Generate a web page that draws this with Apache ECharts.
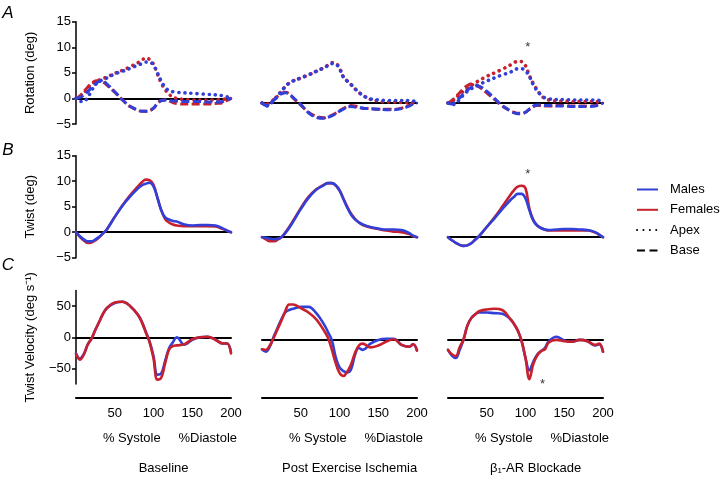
<!DOCTYPE html>
<html><head><meta charset="utf-8">
<script src="https://cdn.jsdelivr.net/npm/echarts@6/dist/echarts.min.js"></script>
<style>html,body{margin:0;padding:0;background:#fff}#c{width:720px;height:480px}</style>
</head><body><div id="c"></div>
<script>
// ---------- DATA ----------
const xs = [0,5,10,15,20,25,30,35,40,50,60,70,80,85,90,95,100,105,110,115,120,125,130,140,150,160,170,180,190,195,200];
const xTickLabels = [50,100,150,200];
const conditions = ['Baseline','Post Exercise Ischemia','\u03B2\u2081-AR Blockade'];
const rowTitles = ['Rotation (deg)','Twist (deg)','Twist Velocity (deg s\u207B\u00B9)'];
const panelLetters = ['A','B','C'];
const legendNames = ['Males','Females','Apex','Base'];

// Row A: rotation (deg)
const rotApexF_BL  = [0,0.2,1.0,2.0,2.8,3.3,3.6,3.9,4.2,4.9,5.5,6.2,7.0,7.5,7.9,7.6,6.7,4.8,3.0,1.7,0.8,0.3,0.0,-0.2,-0.3,-0.3,-0.3,-0.3,-0.2,0.0,0];
const rotApexM_BL  = [0,-0.6,-0.6,0.2,1.5,2.7,3.3,3.7,4.0,4.8,5.3,5.9,6.5,6.8,7.1,7.1,6.5,5.0,3.4,2.2,1.5,1.3,1.2,1.1,1.0,0.9,0.8,0.7,0.5,0.3,0];
const rotBaseF_BL  = [0,0.5,1.3,2.2,2.9,3.4,3.5,3.2,2.6,1.2,-0.3,-1.6,-2.3,-2.5,-2.5,-2.4,-1.9,-1.0,-0.4,-0.3,-0.5,-0.8,-1.0,-1.1,-1.1,-1.1,-1.1,-1.0,-0.8,-0.4,0];
const rotBaseM_BL  = [0,0.2,0.6,1.3,2.1,2.8,3.3,3.3,2.8,1.3,-0.3,-1.6,-2.3,-2.5,-2.5,-2.4,-1.9,-1.0,-0.4,-0.3,-0.4,-0.5,-0.5,-0.6,-0.6,-0.6,-0.7,-0.7,-0.6,-0.3,0];
const rotApexF_PEI = [0,-0.5,-0.2,0.6,1.4,2.3,3.2,3.9,4.3,4.9,5.5,6.2,6.9,7.4,7.9,7.8,6.8,5.1,4.3,3.6,2.8,2.1,1.5,0.7,0.4,0.2,0.2,0.1,0.1,0.1,0];
const rotApexM_PEI = [0,-0.6,-0.3,0.5,1.3,2.3,3.2,3.9,4.3,4.9,5.5,6.2,6.9,7.3,7.7,7.6,6.7,5.1,4.3,3.6,2.8,2.1,1.5,0.8,0.6,0.5,0.5,0.5,0.5,0.4,0];
const rotBaseF_PEI = [0,-0.3,0.1,0.7,1.3,1.8,2.1,1.8,1.0,-0.4,-1.8,-2.6,-2.9,-2.7,-2.4,-2.0,-1.5,-1.1,-0.7,-0.5,-0.6,-0.8,-1.0,-1.1,-1.2,-1.2,-1.2,-1.0,-0.4,-0.1,0];
const rotBaseM_PEI = [0,-0.5,-0.2,0.5,1.2,1.8,2.0,1.8,1.1,-0.3,-1.9,-2.8,-3.0,-2.8,-2.5,-2.1,-1.6,-1.2,-0.8,-0.7,-0.8,-0.9,-1.0,-1.1,-1.2,-1.3,-1.3,-1.1,-0.6,-0.2,0];
const rotApexF_BB  = [0,0.3,1.0,1.7,2.3,2.9,3.4,3.9,4.4,5.2,5.9,6.6,7.4,7.9,8.1,8.1,7.3,5.4,3.8,2.6,1.5,0.9,0.6,0.4,0.4,0.3,0.3,0.3,0.3,0.2,0];
const rotApexM_BB  = [0,-0.3,-0.1,0.7,1.6,2.3,2.8,3.2,3.6,4.3,4.9,5.5,6.0,6.4,6.7,6.7,6.3,5.2,3.6,2.4,1.6,1.0,0.8,0.7,0.7,0.6,0.6,0.6,0.6,0.5,0];
const rotBaseF_BB  = [0,0.5,1.2,2.0,2.8,3.4,3.7,3.6,3.2,2.0,0.7,-0.6,-1.5,-1.8,-2.0,-2.0,-1.8,-1.2,-0.7,-0.5,-0.5,-0.6,-0.6,-0.5,-0.5,-0.6,-0.6,-0.6,-0.5,-0.2,0];
const rotBaseM_BB  = [0,-0.2,0.3,1.0,1.8,2.5,3.1,3.4,3.3,2.3,0.9,-0.5,-1.5,-1.9,-2.1,-2.1,-1.8,-1.2,-0.6,-0.4,-0.4,-0.5,-0.5,-0.6,-0.6,-0.7,-0.7,-0.7,-0.6,-0.3,0];

// Row B: twist (deg)
const twistF_BL  = [0,-0.9,-1.6,-2.1,-2.0,-1.6,-1.0,-0.2,0.6,3.0,5.3,7.3,9.0,9.8,10.3,10.2,9.3,6.8,4.3,2.6,1.9,1.5,1.3,1.2,1.2,1.2,1.2,1.1,0.6,0.3,0];
const twistM_BL  = [0,-0.8,-1.4,-1.8,-1.8,-1.4,-0.9,-0.2,0.6,3.0,5.2,7.0,8.6,9.2,9.5,9.7,9.0,6.8,4.3,2.9,2.5,2.2,2.1,1.5,1.3,1.4,1.4,1.3,0.7,0.3,0];
const twistF_PEI = [0,-0.4,-0.8,-0.8,-0.5,0.0,0.9,2.0,3.2,5.7,7.9,9.4,10.3,10.6,10.6,10.2,9.2,7.6,6.0,4.6,3.6,2.9,2.4,1.9,1.6,1.3,1.1,1.0,0.6,0.2,0];
const twistM_PEI = [0,-0.1,-0.3,-0.4,-0.3,0.0,0.8,1.8,3.0,5.5,7.7,9.3,10.2,10.6,10.6,10.2,9.2,7.5,5.8,4.4,3.5,2.9,2.5,2.0,1.7,1.5,1.5,1.4,0.8,0.3,0];
const twistF_BB  = [0,-0.6,-1.1,-1.5,-1.7,-1.6,-1.2,-0.5,0.2,2.0,3.9,6.0,8.2,9.2,9.9,10.1,9.6,5.6,3.4,2.3,1.8,1.5,1.3,1.3,1.3,1.3,1.3,1.3,0.9,0.5,0];
const twistM_BB  = [0,-0.6,-1.1,-1.5,-1.7,-1.6,-1.2,-0.5,0.2,2.0,3.7,5.5,7.2,7.9,8.5,8.5,7.6,5.3,3.3,2.3,1.8,1.5,1.4,1.5,1.6,1.6,1.5,1.4,1.0,0.5,0];

// Row C: twist velocity (deg/s)
const velF_BL  = [-27,-36,-28,-12,-2,12,25,38,47,56,57,50,36,24,8,-8,-34,-68,-65,-42,-20,-14,-13,-11,-3,0,1,-4,-10,-10,-26];
const velM_BL  = [-26,-34,-27,-12,-2,12,25,38,47,55,57,50,36,25,9,-7,-30,-60,-58,-38,-18,-8,0,-12,-4,0,1,-4,-10,-10,-24];
const velF_PEI = [-16,-17,-10,2,16,30,45,56,56,50,43,32,14,3,-16,-38,-54,-59,-52,-40,-22,-10,-7,-13,-10,-4,0,-9,-12,-8,-18];
const velM_PEI = [-16,-20,-12,4,18,32,43,47,49,52,52,42,24,12,-1,-28,-45,-51,-53,-48,-25,-14,-17,-7,-1,1,1,-9,-12,-8,-18];
const velF_BB  = [-17,-24,-27,-13,0,22,34,40,45,48,49,47,33,25,14,-3,-30,-64,-40,-26,-19,-16,-5,-1,-3,-4,-1,-3,-9,-7,-20];
const velM_BB  = [-17,-26,-30,-17,-1,22,34,40,43,43,42,41,33,25,14,-3,-30,-50,-36,-25,-19,-14,-3,4,-2,-4,-1,-3,-10,-8,-20];

// significance markers (panel column 3 of each row)
const starX = [103, 103, 122];
const starY = [10.8, 12.4, -73];

// ---------- LAYOUT ----------
const FONT = '"Liberation Sans", Arial, Helvetica, sans-serif';
const BLUE = '#3040d8', RED = '#c8202c';
const panelLeft = [76, 262, 448];
const panelWidth = 155;
const rowTop = [[21.7,26.3,26.3],[155.7,160.7,160.7],[290.6,292.6,292.6]];
const rowHeight = [102.3, 102, 93.4];
const rowRange = [[-5,15],[-5,15],[-75,75]];
const DOT = {type:[0.1,6], width:3.6, cap:'round'};
const DASH = {type:[8,3.5], width:3, cap:'butt'};
const SOLID = {type:'solid', width:2.6, cap:'round'};

const panels = [
  [0,0,[[rotApexF_BL,RED,DOT],[rotBaseF_BL,RED,DASH],[rotApexM_BL,BLUE,DOT],[rotBaseM_BL,BLUE,DASH]]],
  [0,1,[[rotApexF_PEI,RED,DOT],[rotBaseF_PEI,RED,DASH],[rotApexM_PEI,BLUE,DOT],[rotBaseM_PEI,BLUE,DASH]]],
  [0,2,[[rotApexF_BB,RED,DOT],[rotBaseF_BB,RED,DASH],[rotApexM_BB,BLUE,DOT],[rotBaseM_BB,BLUE,DASH]]],
  [1,0,[[twistF_BL,RED,SOLID],[twistM_BL,BLUE,SOLID]]],
  [1,1,[[twistF_PEI,RED,SOLID],[twistM_PEI,BLUE,SOLID]]],
  [1,2,[[twistF_BB,RED,SOLID],[twistM_BB,BLUE,SOLID]]],
  [2,0,[[velM_BL,BLUE,SOLID],[velF_BL,RED,SOLID]]],
  [2,1,[[velM_PEI,BLUE,SOLID],[velF_PEI,RED,SOLID]]],
  [2,2,[[velM_BB,BLUE,SOLID],[velF_BB,RED,SOLID]]]
];

const grid = [], xAxis = [], yAxis = [], series = [], graphic = [];
const minus = v => String(v).replace('-', '\u2212');

panels.forEach(([r,c,list], gi) => {
  grid.push({left: panelLeft[c], top: rowTop[r][c], width: panelWidth, height: rowHeight[r], outerBoundsMode:'none', containLabel:false});
  xAxis.push({gridIndex: gi, type:'value', min:0, max:200, position:'bottom',
    axisLine:{show:true, onZero:true, lineStyle:{color:'#000', width:2}},
    axisTick:{show:false}, axisLabel:{show:false}, splitLine:{show:false}});
  const ya = {gridIndex: gi, type:'value', min: rowRange[r][0], max: rowRange[r][1], show: c===0,
    axisLine:{show:true, onZero:false, lineStyle:{color:'#000', width:1.5}},
    axisTick:{show:true, length:4, lineStyle:{color:'#000', width:1.5}},
    axisLabel:{fontSize:13, color:'#000', margin:5, fontFamily:FONT, formatter: minus},
    splitLine:{show:false}};
  if (r < 2) { ya.interval = 5; }
  else { ya.axisLabel.customValues = [-50,0,50]; ya.axisTick.customValues = [-50,0,50]; }
  yAxis.push(ya);
  list.forEach(([arr,color,st]) => {
    series.push({type:'line', xAxisIndex: gi, yAxisIndex: gi, smooth:0.4, symbol:'none', silent:true,
      data: xs.map((x,i)=>[x, arr[i]]),
      itemStyle:{color}, lineStyle:{color, width:st.width, type:st.type, cap:st.cap}});
  });
});

// bottom % axes for row C
[0,1,2].forEach(c => {
  const gi = 6 + c;
  const bottom = rowTop[2][c] + rowHeight[2];
  xAxis.push({gridIndex: gi, type:'value', min:0, max:200, interval:50, position:'bottom',
    offset: 398 - bottom,
    axisLine:{show:true, onZero:false, lineStyle:{color:'#000', width:2}},
    axisTick:{show:false}, splitLine:{show:false},
    axisLabel:{fontSize:13, color:'#000', margin:9, fontFamily:FONT, customValues: xTickLabels}});
});

// asterisks
[0,1,2].forEach(r => {
  const gi = r*3 + 2;
  series.push({type:'scatter', xAxisIndex: gi, yAxisIndex: gi, symbol:'circle', symbolSize:1, silent:true,
    itemStyle:{color:'rgba(0,0,0,0)'}, data:[[starX[r], starY[r]]],
    label:{show:true, position:'inside', formatter:'*', fontSize:13, color:'#000', fontFamily:FONT}});
});

// legend dummy series
series.push({type:'line', name:legendNames[0], xAxisIndex:0, yAxisIndex:0, data:[], symbol:'none', itemStyle:{color:BLUE}, lineStyle:{color:BLUE, width:2.6}});
series.push({type:'line', name:legendNames[1], xAxisIndex:0, yAxisIndex:0, data:[], symbol:'none', itemStyle:{color:RED}, lineStyle:{color:RED, width:2.6}});
series.push({type:'line', name:legendNames[2], xAxisIndex:0, yAxisIndex:0, data:[], symbol:'none', itemStyle:{color:'#000'}, lineStyle:{color:'#000', width:3.6, type:[0.1,6.3], cap:'round'}});
series.push({type:'line', name:legendNames[3], xAxisIndex:0, yAxisIndex:0, data:[], symbol:'none', itemStyle:{color:'#000'}, lineStyle:{color:'#000', width:3, type:[8,4.5]}});

// texts
const letterY = [13, 150, 265];
panelLetters.forEach((t,r) => graphic.push({type:'text', x:8, y:letterY[r], silent:true,
  style:{text:t, font:'italic 17px ' + FONT, fill:'#000', align:'center', verticalAlign:'middle', textAlign:'center', textVerticalAlign:'middle'}}));
rowTitles.forEach((t,r) => graphic.push({type:'text', x:30, y: rowTop[r][0] + rowHeight[r]/2, rotation: Math.PI/2, silent:true,
  style:{text:t, font:'13px ' + FONT, fill:'#000', align:'center', verticalAlign:'middle', textAlign:'center', textVerticalAlign:'middle'}}));
conditions.forEach((t,c) => {
  graphic.push({type:'text', x: panelLeft[c] + panelWidth*0.36, y: 438, silent:true,
    style:{text:'% Systole', font:'13px ' + FONT, fill:'#000', align:'center', verticalAlign:'middle', textAlign:'center', textVerticalAlign:'middle'}});
  graphic.push({type:'text', x: panelLeft[c] + panelWidth*0.85, y: 438, silent:true,
    style:{text:'%Diastole', font:'13px ' + FONT, fill:'#000', align:'center', verticalAlign:'middle', textAlign:'center', textVerticalAlign:'middle'}});
  graphic.push({type:'text', x: panelLeft[c] + panelWidth*0.565, y: 468, silent:true,
    style:{text:t, font:'13px ' + FONT, fill:'#000', align:'center', verticalAlign:'middle', textAlign:'center', textVerticalAlign:'middle'}});
});

const chart = echarts.init(document.getElementById('c'), null, {renderer:'canvas'});
chart.setOption({
  animation:false,
  backgroundColor:'#fff',
  textStyle:{fontFamily:FONT},
  grid, xAxis, yAxis, series, graphic,
  legend:{data:legendNames, orient:'vertical', left:636, top:183, padding:0, itemWidth:21, itemHeight:14, itemGap:7.3,
    selectedMode:false, itemStyle:{opacity:0, borderWidth:0}, lineStyle:{opacity:1},
    textStyle:{fontSize:13, color:'#000', fontFamily:FONT, padding:[0,0,0,7]}}
});
</script></body></html>
